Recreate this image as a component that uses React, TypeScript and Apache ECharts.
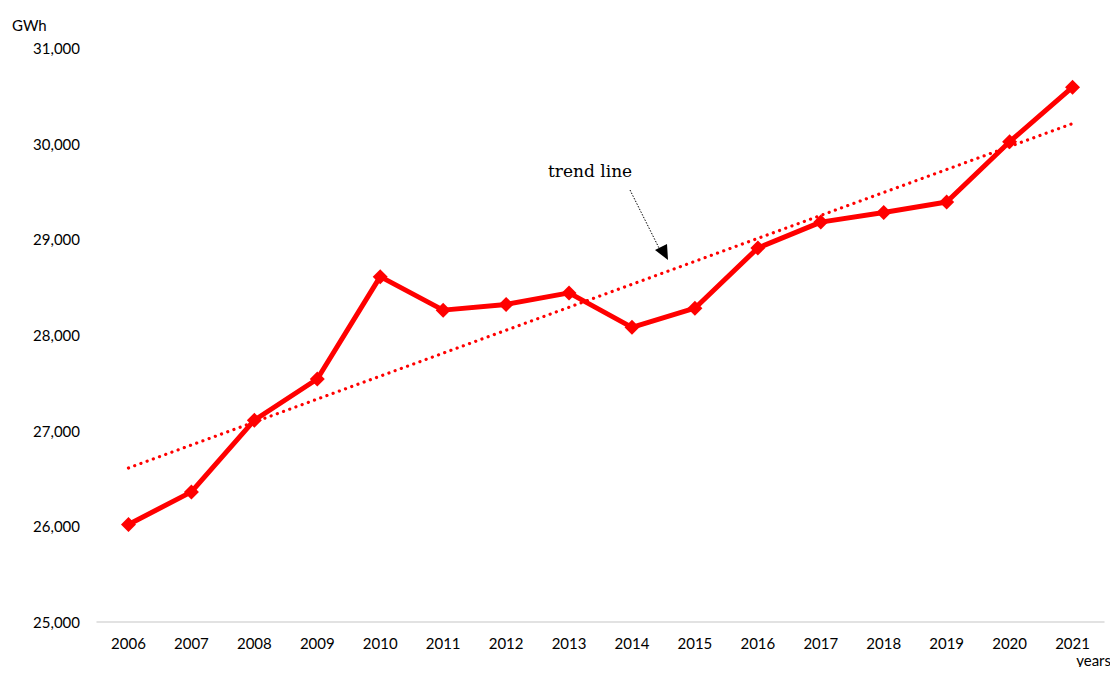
import React, { useEffect, useRef } from "react";
import * as echarts from "echarts";

const years = ["2006","2007","2008","2009","2010","2011","2012","2013","2014","2015","2016","2017","2018","2019","2020","2021"];
const consumption = [26020, 26360, 27110, 27540, 28610, 28260, 28320, 28440, 28080, 28280, 28910, 29180, 29280, 29390, 30020, 30590];
const trend = [26610, null, null, null, null, null, null, null, null, null, null, null, null, null, null, 30210];
const yTicks = { min: 25000, max: 31000, interval: 1000 };

export default function App() {
  const ref = useRef<HTMLDivElement>(null);
  useEffect(() => {
    const chart = echarts.init(ref.current!, null, { renderer: "svg" });
    const labelFont = { fontFamily: "Lato", fontSize: 15, color: "#000" };
    chart.setOption({
      animation: false,
      grid: { left: 97, right: 14, top: 48, bottom: 53 },
      xAxis: {
        type: "category",
        data: years,
        boundaryGap: true,
        axisLine: { lineStyle: { color: "#d9d9d9", width: 1.5 } },
        axisTick: { show: false },
        axisLabel: { ...labelFont, margin: 13 },
      },
      yAxis: {
        type: "value",
        min: yTicks.min,
        max: yTicks.max,
        interval: yTicks.interval,
        splitLine: { show: false },
        axisLine: { show: false },
        axisTick: { show: false },
        axisLabel: { ...labelFont, margin: 17, formatter: (v: number) => v.toLocaleString("en-US") },
        name: "GWh",
        nameLocation: "end",
        nameGap: 0,
        nameTextStyle: { ...labelFont, align: "left", padding: [0, 0, 16, -85] },
      },
      series: [
        {
          type: "line",
          data: trend,
          connectNulls: true,
          symbol: "none",
          lineStyle: { color: "#ff0000", width: 3.2, type: [0.1, 6.5], cap: "round" },
          z: 1,
        },
        {
          type: "line",
          data: consumption,
          symbol: "diamond",
          symbolSize: 15,
          itemStyle: { color: "#ff0000" },
          lineStyle: { color: "#ff0000", width: 5, join: "round" },
          z: 2,
        },
      ],
      graphic: [
        {
          type: "text",
          right: 7,
          top: 652,
          style: { text: "years", font: "15px Lato", fill: "#000", textVerticalAlign: "top" },
        },
        {
          type: "text",
          left: 548,
          top: 162,
          style: { text: "trend line", font: "17px 'DejaVu Serif', serif", fill: "#000" },
        },
        {
          type: "line",
          shape: { x1: 630, y1: 190, x2: 659, y2: 248 },
          style: { stroke: "#000", lineWidth: 1, lineDash: [1.5, 1.5] },
        },
        {
          type: "polygon",
          shape: { points: [[668, 260], [655, 250], [667, 244]] },
          style: { fill: "#000" },
        },
      ],
    });
    return () => chart.dispose();
  }, []);
  return <div ref={ref} style={{ width: 1118, height: 675, margin: -8 }} />;
}
